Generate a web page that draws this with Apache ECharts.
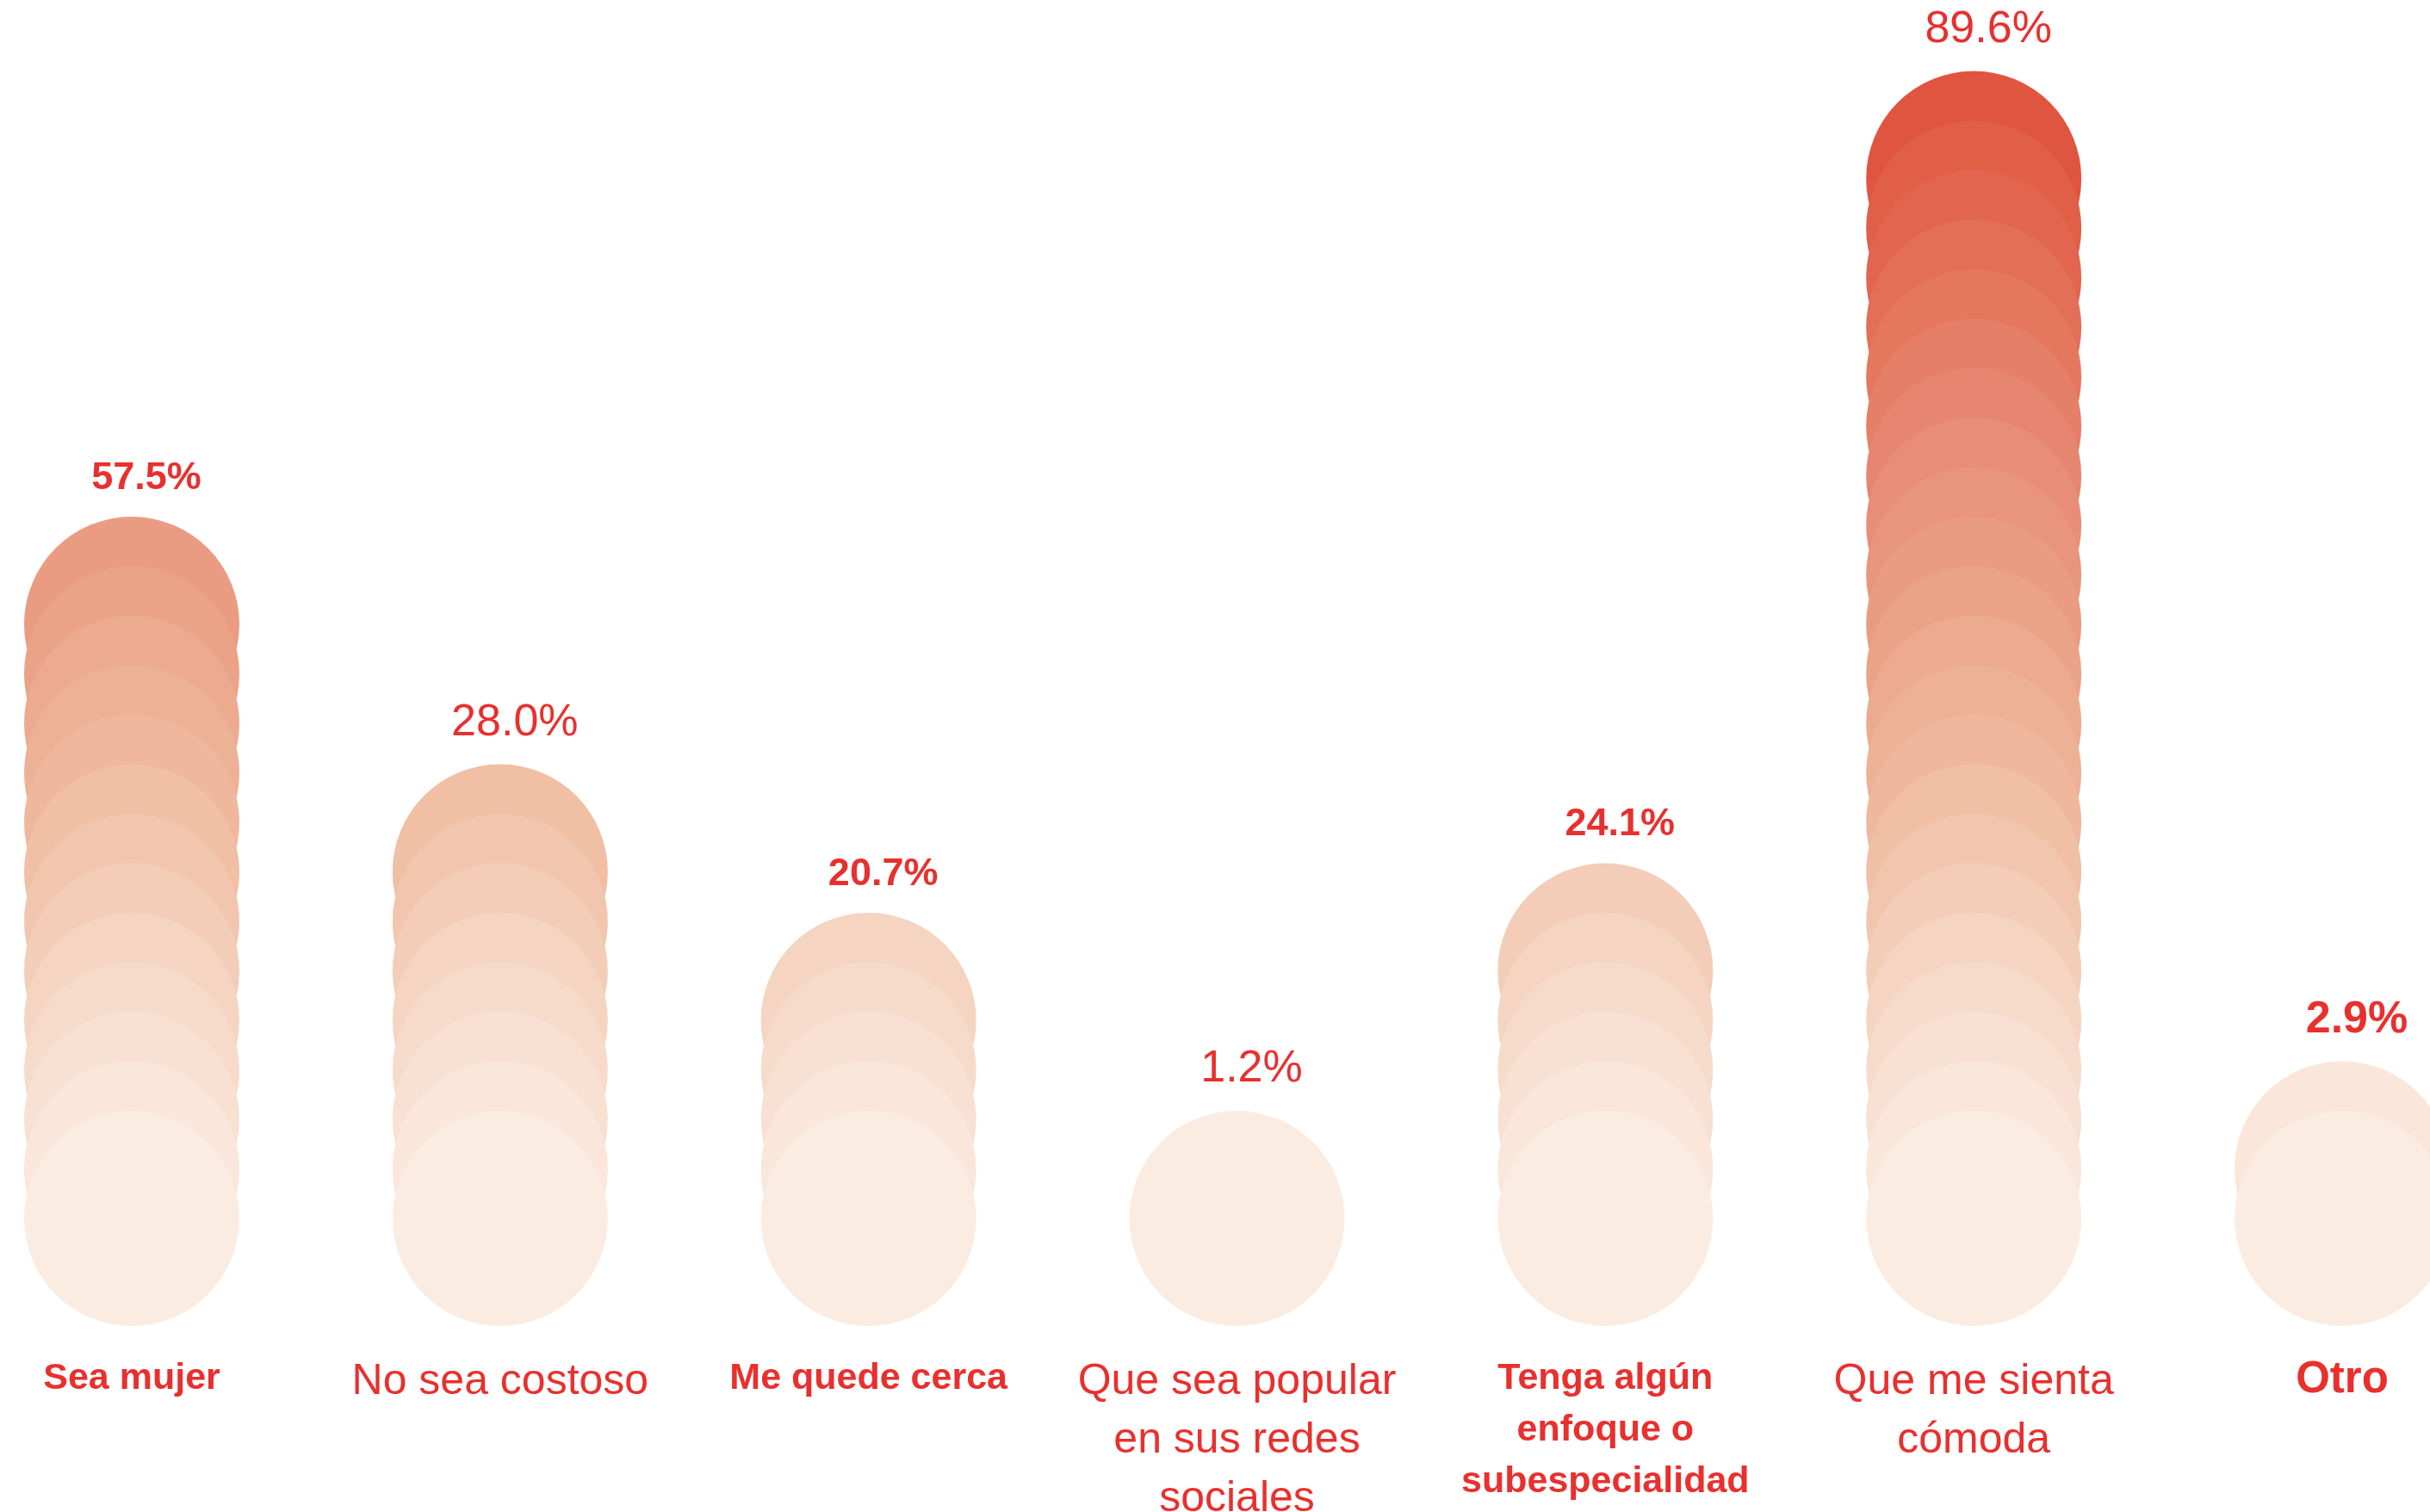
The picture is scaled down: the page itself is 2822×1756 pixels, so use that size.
<!DOCTYPE html>
<html>
<head>
<meta charset="utf-8">
<script src="https://cdn.jsdelivr.net/npm/echarts@6/dist/echarts.min.js"></script>
<style>
  html, body { margin: 0; padding: 0; background: #ffffff; }
  #chart { width: 2822px; height: 1756px; }
</style>
</head>
<body>
<div id="chart"></div>
<script>
// Data
var categories = [
  'Sea mujer',
  'No sea costoso',
  'Me quede cerca',
  'Que sea popular\nen sus redes\nsociales',
  'Tenga algún\nenfoque o\nsubespecialidad',
  'Que me sienta\ncómoda',
  'Otro'
];
var percents = [57.5, 28.0, 20.7, 1.2, 24.1, 89.6, 2.9];
// number of stacked circles drawn in each column
var circles = [13, 8, 5, 1, 6, 22, 2];

// Styling (which labels are bold in the original)
var catBold = [true, false, true, false, true, false, true];
var valBold = [true, false, true, false, true, false, true];

var RED = '#E8302E';
var FONT = '"Liberation Sans", Arial, Helvetica, sans-serif';

// one scatter point per circle; upper circles first so lower ones sit on top
var points = [];
categories.forEach(function (cat, i) {
  for (var k = circles[i] - 1; k >= 0; k--) {
    var item = { value: [i, k] };
    if (k === circles[i] - 1) {
      var big = (i === 6);
      item.label = {
        show: true,
        position: 'top',
        distance: 22,
        offset: [17, 0],
        formatter: percents[i].toFixed(1) + '%',
        color: RED,
        opacity: 1,
        fontFamily: FONT,
        fontWeight: valBold[i] ? 'bold' : 'normal',
        fontSize: valBold[i] ? (big ? 52 : 45) : 52
      };
    }
    points.push(item);
  }
});

var chart = echarts.init(document.getElementById('chart'));

chart.setOption({
  backgroundColor: '#ffffff',
  animation: false,
  grid: {
    left: 153, right: 102, top: 35, bottom: 341,
    containLabel: false,
    outerBoundsMode: 'none'
  },
  xAxis: {
    type: 'category',
    data: categories,
    boundaryGap: false,
    axisLine: { show: false },
    axisTick: { show: false },
    splitLine: { show: false },
    axisLabel: {
      interval: 0,
      margin: 156,
      verticalAlign: 'top',
      formatter: function (val, idx) {
        var key = catBold[idx] ? (idx === 6 ? 'bb' : 'b') : 'r';
        return val.split('\n').map(function (l) {
          return '{' + key + '|' + l + '}';
        }).join('\n');
      },
      rich: {
        b: { color: RED, fontFamily: FONT, fontWeight: 'bold', fontSize: 43, lineHeight: 60, align: 'center' },
        bb: { color: RED, fontFamily: FONT, fontWeight: 'bold', fontSize: 51, lineHeight: 64, align: 'center' },
        r: { color: RED, fontFamily: FONT, fontWeight: 'normal', fontSize: 50, lineHeight: 68, align: 'center' }
      }
    }
  },
  yAxis: {
    type: 'value',
    min: 0,
    max: 24,
    show: false,
    splitLine: { show: false }
  },
  visualMap: {
    show: false,
    type: 'continuous',
    seriesIndex: 0,
    dimension: 1,
    min: 0,
    max: 21,
    inRange: {
      color: ['#FBECE2', '#F6D8C6', '#F0BFA4', '#EBA78B', '#E88E78', '#E4735B', '#E0553F']
    }
  },
  series: [{
    type: 'scatter',
    symbol: 'circle',
    symbolSize: 250,
    clip: false,
    silent: true,
    itemStyle: { opacity: 1 },
    data: points
  }]
});
</script>
</body>
</html>
